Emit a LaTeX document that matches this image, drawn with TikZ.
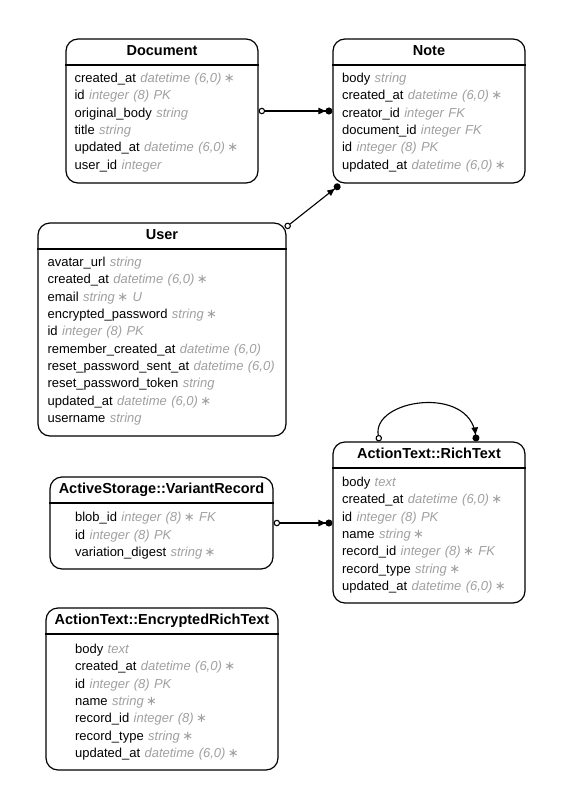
\documentclass[tikz,border=0pt]{standalone}
\usepackage{fontspec}
\setmainfont{Liberation Sans}
\newfontfamily\symf{DejaVu Sans}
\usetikzlibrary{arrows.meta,calc}
\definecolor{tg}{RGB}{160,160,160}
\newcommand{\st}{\kern-2pt{\upshape\symf\fontsize{13}{15}\selectfont ∗}}
\newcommand{\ty}[1]{\textcolor{tg}{\itshape #1}}
\newcommand{\widesp}{\spaceskip=4.4pt\relax}
\tikzset{
  ent/.style={draw, line width=1.2pt, rounded corners=12pt, inner sep=0pt, fill=white},
  sepline/.style={line width=1.2pt},
  ttl/.style={anchor=base, inner sep=0pt, font=\fontsize{14.5}{17}\selectfont\bfseries},
  fld/.style={anchor=base west, inner sep=0pt, font=\fontsize{13}{15}\selectfont, execute at begin node=\widesp},
  rel/.style={line width=1.1pt,
    {Circle[open,length=6.5pt,width=6.5pt,fill=white,sep=0pt]}-{Triangle[length=7pt,width=6.5pt,sep=0pt]Circle[length=7pt,width=7pt,sep=0pt]}}
}
% name, cx, cy, w, h, title, row x offset, first baseline offset, rows
\newcommand{\erbox}[9]{%
  \node[ent, minimum width=#4pt, minimum height=#5pt] (#1) at (#2,#3) {};
  \draw[sepline] ($(#1.north west)+(0,26.5)$) -- ($(#1.north east)+(0,26.5)$);
  \node[ttl] (#1-t) at ($(#1.north)+(0,17)$) {#6};
  \foreach \rowtext [count=\i] in {#9} {
    \node[fld] (#1-\i) at ($(#1.north west)+(#7,#8+17.35*\i-17.35)$) {\rowtext};
  }%
}
\begin{document}
\begin{tikzpicture}[x=1pt,y=-1pt]
\useasboundingbox (0,0) rectangle (563,809);

\erbox{doc}{162}{111}{192}{144}{Document}{9}{44}{%
  {created\_at \ty{datetime (6,0) \st}},
  {id \ty{integer (8) PK}},
  {original\_body \ty{string}},
  {title \ty{string}},
  {updated\_at \ty{datetime (6,0) \st}},
  {user\_id \ty{integer}}}

\erbox{note}{429}{111}{192}{144}{Note}{9.5}{44}{%
  {body \ty{string}},
  {created\_at \ty{datetime (6,0) \st}},
  {creator\_id \ty{integer FK}},
  {document\_id \ty{integer FK}},
  {id \ty{integer (8) PK}},
  {updated\_at \ty{datetime (6,0) \st}}}

\erbox{user}{162}{329.5}{248}{213}{User}{10}{44}{%
  {avatar\_url \ty{string}},
  {created\_at \ty{datetime (6,0) \st}},
  {email \ty{string \st\ U}},
  {encrypted\_password \ty{string \st}},
  {id \ty{integer (8) PK}},
  {remember\_created\_at \ty{datetime (6,0)}},
  {reset\_password\_sent\_at \ty{datetime (6,0)}},
  {reset\_password\_token \ty{string}},
  {updated\_at \ty{datetime (6,0) \st}},
  {username \ty{string}}}

\erbox{rt}{429}{522.5}{192}{161}{ActionText::RichText}{9.5}{45}{%
  {body \ty{text}},
  {created\_at \ty{datetime (6,0) \st}},
  {id \ty{integer (8) PK}},
  {name \ty{string \st}},
  {record\_id \ty{integer (8) \st\ FK}},
  {record\_type \ty{string \st}},
  {updated\_at \ty{datetime (6,0) \st}}}

\erbox{vr}{161.5}{523}{223}{92}{ActiveStorage::VariantRecord}{25.5}{45.5}{%
  {blob\_id \ty{integer (8) \st\ FK}},
  {id \ty{integer (8) PK}},
  {variation\_digest \ty{string \st}}}

\erbox{ert}{162}{689}{232}{162}{ActionText::EncryptedRichText}{29.5}{46}{%
  {body \ty{text}},
  {created\_at \ty{datetime (6,0) \st}},
  {id \ty{integer (8) PK}},
  {name \ty{string \st}},
  {record\_id \ty{integer (8) \st}},
  {record\_type \ty{string \st}},
  {updated\_at \ty{datetime (6,0) \st}}}

% connectors
\draw[rel] (doc.east) -- (note.west);
\coordinate (ua) at ($(user.north east)+(-1.5,5.5)$);
\coordinate (nb) at ($(note.south west)+(7.5,1)$);
\draw[rel] (ua) -- (nb);
\coordinate (rtl) at ($(rt.north west)+(47,0)$);
\coordinate (rtr) at ($(rt.north west)+(144,0)$);
\draw[rel] (rtl) .. controls +(-8,-42) and +(-7,-57) .. (rtr);
\draw[rel] (vr.east) -- (vr.east -| rt.west);
\end{tikzpicture}
\end{document}
